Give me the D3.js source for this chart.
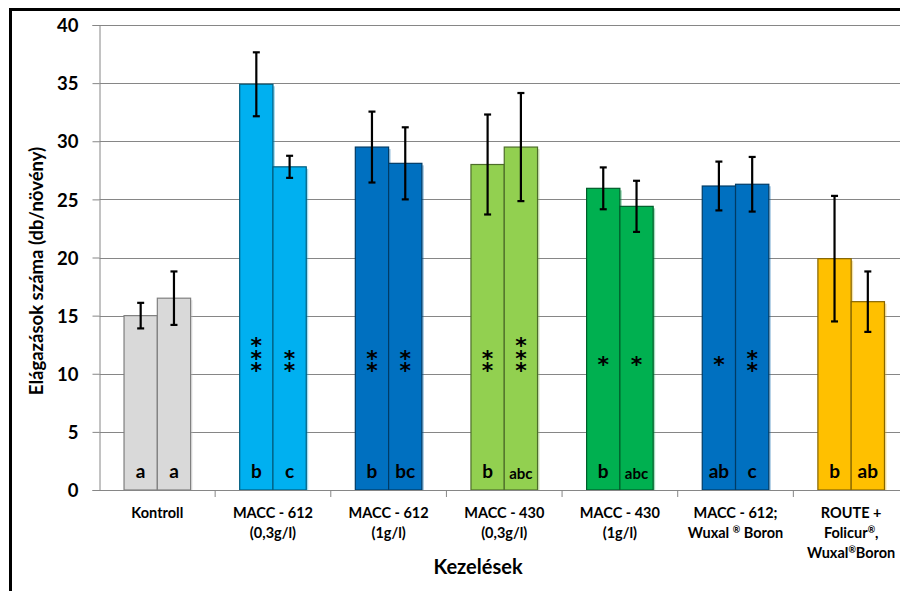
<!DOCTYPE html>
<html><head><meta charset="utf-8">
<script src="https://cdn.jsdelivr.net/npm/d3@7"></script>
<style>html,body{margin:0;padding:0;background:#fff;}svg{display:block;font-family:Lato,"Open Sans",sans-serif;}</style>
</head><body>
<svg id="chart" width="900" height="591"></svg>
<script>
const categories = [
  ["Kontroll"],
  ["MACC - 612", "(0,3g/l)"],
  ["MACC - 612", "(1g/l)"],
  ["MACC - 430", "(0,3g/l)"],
  ["MACC - 430", "(1g/l)"],
  ["MACC - 612;", "Wuxal ® Boron"],
  ["ROUTE +", "Folicur®,", "Wuxal®Boron"]
];
const colors = ["#D9D9D9", "#00B0F0", "#0070C0", "#92D050", "#00B050", "#0070C0", "#FFC000"];
const values1 = [15.0, 34.9, 29.5, 28.0, 25.95, 26.15, 19.9];
const values2 = [16.5, 27.8, 28.1, 29.5, 24.4, 26.3, 16.2];
const err1 = [1.1, 2.75, 3.05, 4.3, 1.8, 2.1, 5.4];
const err2 = [2.3, 0.95, 3.1, 4.65, 2.2, 2.35, 2.6];
const letters1 = ["a", "b", "b", "b", "b", "ab", "b"];
const letters2 = ["a", "c", "bc", "abc", "abc", "c", "ab"];
const stars1 = [0, 3, 2, 2, 1, 1, 0];
const stars2 = [0, 2, 2, 3, 1, 2, 0];
const yTicks = [0, 5, 10, 15, 20, 25, 30, 35, 40];
const yTitle = "Elágazások száma (db/növény)";
const xTitle = "Kezelések";

(function () {
const svg = d3.select("#chart");
const pLeft = 99.5, pRight = 909, pTop = 25, pBottom = 490;
const y = d3.scaleLinear().domain([0, 40]).range([pBottom, pTop]);
const x = d3.scaleBand().domain(d3.range(categories.length)).range([pLeft, pRight]).padding(0);
const xs = d3.scaleBand().domain([0, 1]).range([0, x.bandwidth()]).paddingInner(0).paddingOuter(0.737);

// frame
svg.append("rect").attr("x", 10.5).attr("y", 9.5).attr("width", 950).attr("height", 650)
  .attr("fill", "none").attr("stroke", "#000").attr("stroke-width", 3);

// gridlines
svg.append("g").selectAll("line").data(yTicks.filter(d => d > 0)).join("line")
  .attr("x1", pLeft).attr("x2", 900).attr("y1", d => Math.round(y(d)) + 0.5).attr("y2", d => Math.round(y(d)) + 0.5)
  .attr("stroke", "#868686").attr("stroke-width", 1);

// y axis
const yAxis = svg.append("g").attr("transform", `translate(${pLeft},0)`)
  .call(d3.axisLeft(y).tickValues(yTicks).tickSize(7).tickPadding(14));
yAxis.select(".domain").attr("stroke", "#868686");
yAxis.selectAll(".tick line").attr("stroke", "#868686");
yAxis.selectAll(".tick text").attr("font-size", 18.5).attr("font-weight", "bold").attr("fill", "#000")
  .attr("font-family", "Lato, sans-serif").attr("dy", "0.36em");

// bars
const series = [
  {vals: values1, errs: err1, letters: letters1, stars: stars1, idx: 0},
  {vals: values2, errs: err2, letters: letters2, stars: stars2, idx: 1}
];
const shadow = svg.append("g");
const barG = svg.append("g");
series.forEach(s => {
  s.vals.forEach((v, i) => {
    const bx = x(i) + xs(s.idx), bw = xs.bandwidth();
    shadow.append("rect").attr("x", bx + 2).attr("y", y(v) + 2).attr("width", bw).attr("height", pBottom - y(v) - 1)
      .attr("fill", d3.color(colors[i]).darker(0.3)).attr("opacity", 0.35);
    barG.append("rect").attr("x", bx).attr("y", y(v)).attr("width", bw).attr("height", pBottom - y(v))
      .attr("fill", colors[i]).attr("stroke", i === 0 ? "#7f7f7f" : d3.color(colors[i]).darker(1.8)).attr("stroke-width", 1.2);
  });
});

// x axis line and ticks
svg.append("line").attr("x1", pLeft).attr("x2", 900).attr("y1", pBottom + 0.5).attr("y2", pBottom + 0.5).attr("stroke", "#868686");
svg.append("g").selectAll("line").data(d3.range(1, categories.length)).join("line")
  .attr("x1", d => x(d)).attr("x2", d => x(d)).attr("y1", pBottom).attr("y2", pBottom + 7).attr("stroke", "#868686");

// error bars
const eG = svg.append("g");
series.forEach(s => {
  s.vals.forEach((v, i) => {
    const cx = x(i) + xs(s.idx) + xs.bandwidth() / 2;
    const e = s.errs[i];
    eG.append("line").attr("x1", cx).attr("x2", cx).attr("y1", y(v + e)).attr("y2", y(v - e)).attr("stroke", "#000").attr("stroke-width", 2.2);
    [v + e, v - e].forEach(t => eG.append("line").attr("x1", cx - 3.5).attr("x2", cx + 3.5).attr("y1", y(t)).attr("y2", y(t)).attr("stroke", "#000").attr("stroke-width", 2.2));
  });
});

// letters & stars
const lG = svg.append("g");
series.forEach(s => {
  s.vals.forEach((v, i) => {
    const cx = x(i) + xs(s.idx) + xs.bandwidth() / 2;
    const L = s.letters[i];
    lG.append("text").attr("x", cx).attr("y", L.length > 2 ? 479 : 478).attr("text-anchor", "middle")
      .attr("font-size", L.length > 2 ? 15 : 19).attr("font-weight", "bold").attr("fill", "#000").text(L);
    const n = s.stars[i];
    if (n > 0) {
      const lastY = n === 1 ? 360 : 366;
      const firstY = lastY - (n - 1) * 12.5;
      const st = lG.append("text").attr("text-anchor", "middle")
        .attr("font-family", "'DejaVu Sans', sans-serif").attr("font-size", 22).attr("font-weight", "bold").attr("fill", "#000");
      for (let k = 0; k < n; k++) {
        st.append("tspan").attr("x", cx).attr("y", firstY + k * 12.5 + 12).text("*");
      }
    }
  });
});

// x labels
const xl = svg.append("g");
categories.forEach((lines, i) => {
  const cx = x(i) + x.bandwidth() / 2;
  const t = xl.append("text").attr("text-anchor", "middle").attr("font-size", 14.5).attr("font-weight", "bold").attr("fill", "#000");
  lines.forEach((ln, j) => {
    const ts = t.append("tspan").attr("x", cx).attr("y", 517.5 + j * 20);
    const parts = ln.split("®");
    parts.forEach((p, k) => {
      if (k > 0) ts.append("tspan").attr("font-size", 9).attr("dy", -5).text("®");
      const tp = ts.append("tspan").text(p);
      if (k > 0) tp.attr("dy", 5);
    });
  });
});

// titles
svg.append("text").attr("x", 478).attr("y", 574).attr("text-anchor", "middle").attr("font-size", 20)
  .attr("font-weight", "bold").attr("fill", "#000").text(xTitle);
svg.append("text").attr("transform", "translate(43,271) rotate(-90)").attr("text-anchor", "middle")
  .attr("font-size", 18.5).attr("font-weight", "bold").attr("fill", "#000").text(yTitle);
})();
</script>
</body></html>
